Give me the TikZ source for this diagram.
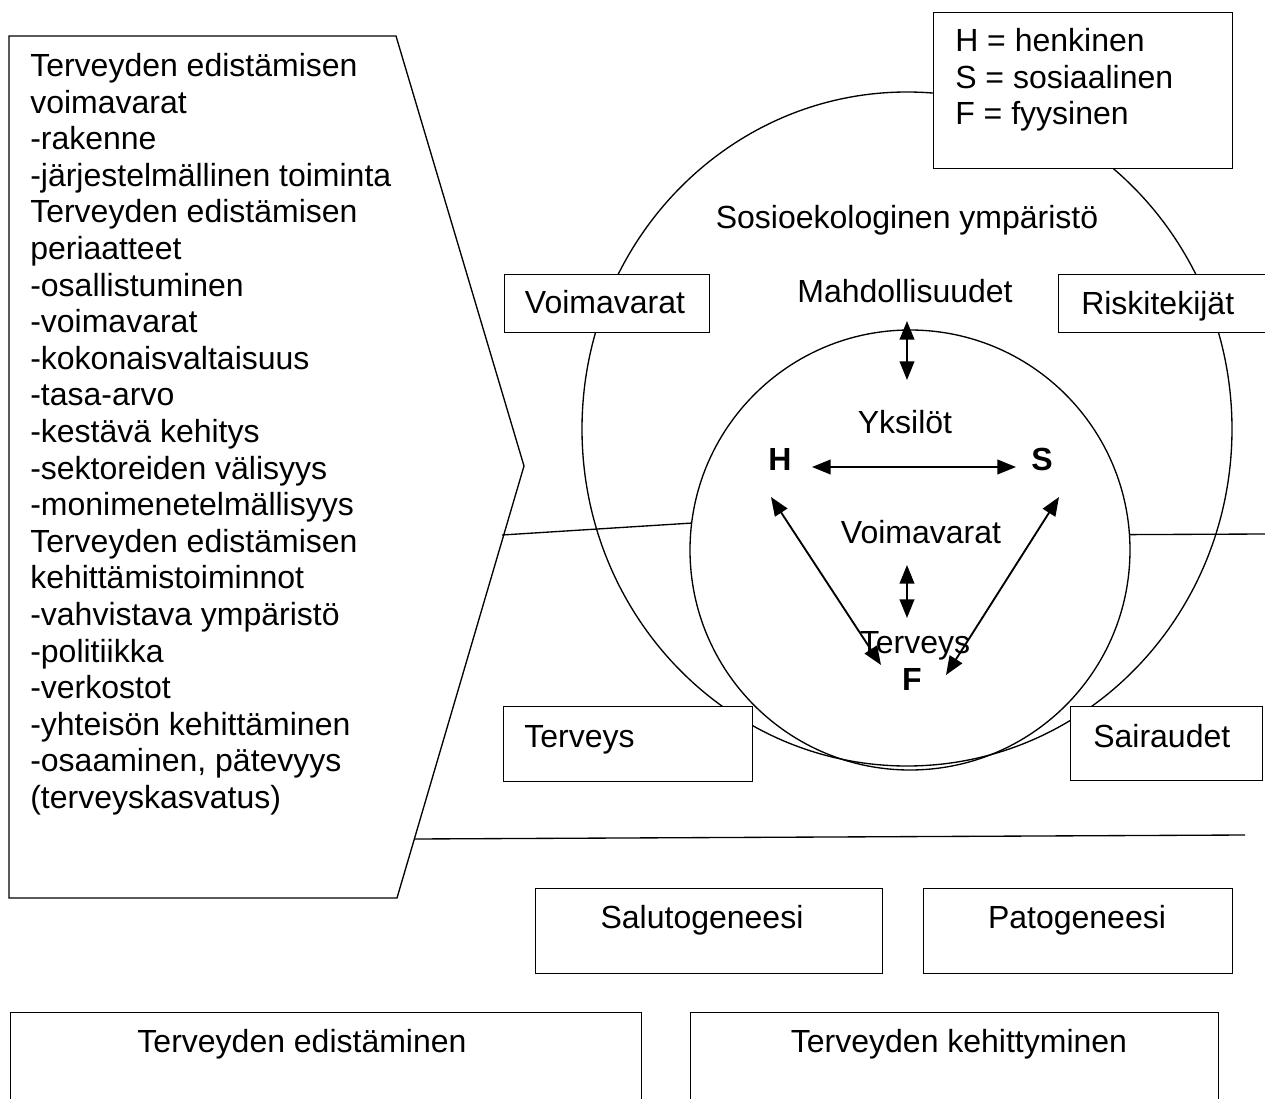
\documentclass[tikz,border=0pt]{standalone}
\usepackage{fontspec}
\setmainfont{Liberation Sans}
\usetikzlibrary{arrows.meta,positioning}

\begin{document}
\begin{tikzpicture}[x=0.75pt, y=-0.75pt,
  lbl/.style={font=\fontsize{24}{27.45}\selectfont, inner sep=0pt},
  sym/.style={font=\fontsize{24}{27.45}\selectfont\bfseries, inner sep=0pt},
  frame/.style={draw, line width=1pt, fill=white, anchor=north west, inner sep=0pt},
  rule/.style={line width=1pt},
  dbl/.style={>={Triangle[length=14pt,width=11pt]}, <->, line width=1.4pt}]
\useasboundingbox (0,0) rectangle (1265,1099);
\clip (0,0) rectangle (1265,1099);

% environment and individual
\draw[rule] (907,429) ellipse [x radius=243.75pt, y radius=252.75pt];
\node[circle, draw, line width=1pt, minimum size=330pt, inner sep=0pt] (inner) at (910,550) {};

% left list (base = last line)
\draw[rule] (9,36) -- (396,36) -- (524,466) -- (397,898) -- (9,898) -- cycle;
\node[lbl, anchor=base west, align=left] (list) at (30,808.5) {Terveyden edistämisen\\voimavarat\\-rakenne\\-järjestelmällinen toiminta\\Terveyden edistämisen\\periaatteet\\-osallistuminen\\-voimavarat\\-kokonaisvaltaisuus\\-tasa-arvo\\-kestävä kehitys\\-sektoreiden välisyys\\-monimenetelmällisyys\\Terveyden edistämisen\\kehittämistoiminnot\\-vahvistava ympäristö\\-politiikka\\-verkostot\\-yhteisön kehittäminen\\-osaaminen, pätevyys\\(terveyskasvatus)};

% dividing lines
\coordinate (lcut) at (502,535);
\coordinate (rend) at (1265,534);
\coordinate (bl) at (414,839);
\coordinate (br) at (1245,835);
\draw[rule] (lcut) -- (inner.173);
\draw[rule] (inner.4) -- (rend);
\draw[rule] (bl) -- (br);

% boxes
\node[frame, minimum width=224.25pt, minimum height=117pt] (bLegend) at (933,12) {};
\node[lbl, anchor=base west, align=left] (legend) at (955,125) {H = henkinen\\S = sosiaalinen\\F = fyysinen};
\node[frame, minimum width=153.75pt, minimum height=43.5pt] (bVoima) at (504,274) {};
\node[lbl, anchor=base] (tVoima) at (605,313) {Voimavarat};
\node[frame, minimum width=174pt, minimum height=43.5pt] (bRiski) at (1058,274) {};
\node[lbl, anchor=base west] (tRiski) at (1081,314) {Riskitekijät};
\node[frame, minimum width=186.75pt, minimum height=56.25pt] (bTerv) at (503,706) {};
\node[lbl, anchor=base west] (tTerv) at (524,747) {Terveys};
\node[frame, minimum width=144pt, minimum height=55.5pt] (bSair) at (1070,706) {};
\node[lbl, anchor=base west] (tSair) at (1093,747) {Sairaudet};
\node[frame, minimum width=260.25pt, minimum height=63.75pt] (bSalu) at (535,888) {};
\node[lbl, anchor=base] (tSalu) at (702,928) {Salutogeneesi};
\node[frame, minimum width=231.75pt, minimum height=63.75pt] (bPato) at (923,888) {};
\node[lbl, anchor=base] (tPato) at (1077,928) {Patogeneesi};
\node[frame, minimum width=473.25pt, minimum height=120pt] (bEdist) at (10,1012) {};
\node[lbl, anchor=base] (tEdist) at (302,1052) {Terveyden edistäminen};
\node[frame, minimum width=396pt, minimum height=120pt] (bKehit) at (690,1012) {};
\node[lbl, anchor=base] (tKehit) at (959,1052) {Terveyden kehittyminen};

% circle texts
\node[lbl, anchor=base] (soso) at (907,228) {Sosioekologinen ympäristö};
\node[lbl, anchor=base] (mahd) at (905,302) {Mahdollisuudet};
\node[lbl, anchor=base] (yksi) at (905,433) {Yksilöt};
\node[lbl, anchor=base] (voim) at (921,543) {Voimavarat};
\node[lbl, anchor=base] (terv) at (915,653) {Terveys};
\node[sym] (H) at (780,459) {H};
\node[sym] (S) at (1042,459) {S};
\node[sym] (F) at (912,679) {F};

% arrows
\draw[dbl] ([shift={(2,19)}]mahd.base) -- ([shift={(2,-53)}]yksi.base);
\draw[dbl] ([shift={(32,8)}]H.center) -- ([shift={(-26,8)}]S.center);
\draw[dbl] ([shift={(-9,38)}]H.center) -- ([shift={(-31,-14)}]F.center);
\draw[dbl] ([shift={(17,38)}]S.center) -- ([shift={(34,-4)}]F.center);
\draw[dbl] ([shift={(-14,22)}]voim.base) -- ([shift={(-8,-35)}]terv.base);
\end{tikzpicture}
\end{document}
